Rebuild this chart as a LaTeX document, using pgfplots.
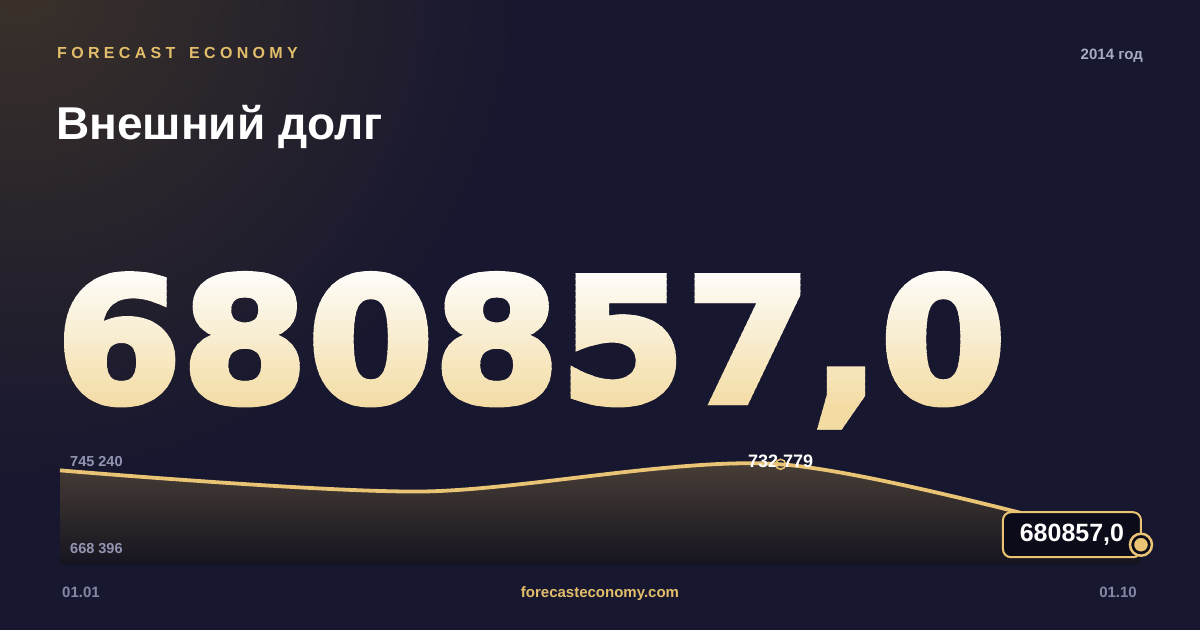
\documentclass[border=0pt]{standalone}
\usepackage{pgfplots}
\pgfplotsset{compat=1.18}
\usepgfplotslibrary{fillbetween}
\usepackage{graphicx}
\usepackage{fontspec}
\setmainfont{Liberation Sans}
\newfontfamily\numfont[FakeBold=3.5]{DejaVu Sans Bold}
\tikzset{fill between/on layer=main}

\definecolor{bg}{HTML}{17172F}
\definecolor{glow}{HTML}{3A3129}
\definecolor{gold}{HTML}{E8C474}
\definecolor{goldtext}{HTML}{E2BE6B}
\definecolor{numgold}{HTML}{F3DCA4}
\definecolor{yeargrey}{HTML}{A8AAC4}
\definecolor{labgrey}{HTML}{9294B2}
\definecolor{dategrey}{HTML}{8487A6}
\definecolor{areatop}{HTML}{4B4038}
\definecolor{areabot}{HTML}{15141F}
\definecolor{boxfill}{HTML}{0B0B19}

\newcommand{\bignum}{\resizebox{950pt}{128pt}{\numfont 680857,0}}

\begin{document}
\begin{tikzpicture}[x=1pt, y=1pt]
  \fill[bg] (0,0) rectangle (1200,630);
  \begin{scope}
    \clip (0,0) rectangle (1200,630);
    \shade[overlay, inner color=glow, outer color=bg] (20,650) circle (500);
  \end{scope}

  % header
  \node[anchor=base west, inner sep=0pt, text=goldtext,
        font=\bfseries\fontsize{16}{16}\selectfont\addfontfeature{LetterSpace=27}]
    at (57,571) {FORECAST\hspace{5pt} ECONOMY};
  \node[anchor=base east, inner sep=0pt, text=yeargrey,
        font=\bfseries\fontsize{15}{15}\selectfont]
    at (1143,570) {2014 год};
  \node[anchor=base west, inner sep=0pt, text=white,
        font=\bfseries\fontsize{46}{46}\selectfont]
    at (56,490) {Внешний долг};

  % big value, vertical gradient built from clipped strips
  \foreach \i in {0,...,30} {
    \pgfmathsetmacro\ytop{375-6*\i}
    \pgfmathsetmacro\pct{max(0,min(100,100-(\i*6-6)/144*100))}
    \begin{scope}
      \clip (0,\ytop-6.4) rectangle (1200,\ytop);
      \node[anchor=base, inner sep=0pt, text=white!\pct!numgold] at (531,228) {\bignum};
    \end{scope}
  }

  % footer
  \node[anchor=base west, inner sep=0pt, text=dategrey,
        font=\bfseries\fontsize{15}{15}\selectfont] at (62,33) {01.01};
  \node[anchor=base east, inner sep=0pt, text=dategrey,
        font=\bfseries\fontsize{15}{15}\selectfont] at (1137,33) {01.10};
  \node[anchor=base, inner sep=0pt, text=goldtext,
        font=\bfseries\fontsize{15}{15}\selectfont] at (600,33) {forecasteconomy.com};

  \begin{axis}[
      at={(60pt,66pt)}, anchor=south west,
      width=1081pt, height=119pt, scale only axis,
      axis lines=none, ticks=none,
      xmin=0, xmax=3,
      ymin=668396, ymax=745240,
      clip=false,
    ]
    \addplot[name path=debt, draw=none, smooth] coordinates {
      (0,728864) (1,715200) (2,732779) (3,680857)
    };
    \path[name path=base] (axis cs:0,668396) -- (axis cs:3,668396);
    \addplot[top color=areatop, bottom color=areabot]
      fill between[of=debt and base];
    \addplot[gold, line width=3.8pt, smooth] coordinates {
      (0,728864) (1,715200) (2,732779) (3,680857)
    };

    \node[anchor=base west, inner sep=0pt, text=labgrey, xshift=10pt, yshift=-22pt,
          font=\bfseries\fontsize{14.5}{14.5}\selectfont]
      at (axis cs:0,745240) {745 240};
    \node[anchor=base west, inner sep=0pt, text=labgrey, xshift=10pt, yshift=11pt,
          font=\bfseries\fontsize{14.5}{14.5}\selectfont]
      at (axis cs:0,668396) {668 396};

    \addplot[only marks, mark=o, mark size=5pt, gold, line width=1.5pt]
      coordinates {(2,732779)};
    \node[anchor=base, inner sep=0pt, text=white, yshift=-3pt,
          font=\bfseries\fontsize{18}{18}\selectfont]
      at (axis cs:2,732779) {732 779};

    \node[anchor=east, draw=gold, line width=2pt, fill=boxfill, rounded corners=8pt,
          minimum width=138pt, minimum height=45pt, inner sep=0pt, text=white,
          xshift=1pt, yshift=10pt,
          font=\bfseries\fontsize{25}{25}\selectfont]
      at (axis cs:3,680857) {680857,0};

    \addplot[only marks, mark=*, mark size=11pt, draw=gold, fill=boxfill, line width=2.5pt]
      coordinates {(3,680857)};
    \addplot[only marks, mark=*, mark size=6.5pt, draw=gold, fill=gold]
      coordinates {(3,680857)};
  \end{axis}
  \pgfresetboundingbox
  \useasboundingbox (0,0) rectangle (1200,630);
\end{tikzpicture}
\end{document}
